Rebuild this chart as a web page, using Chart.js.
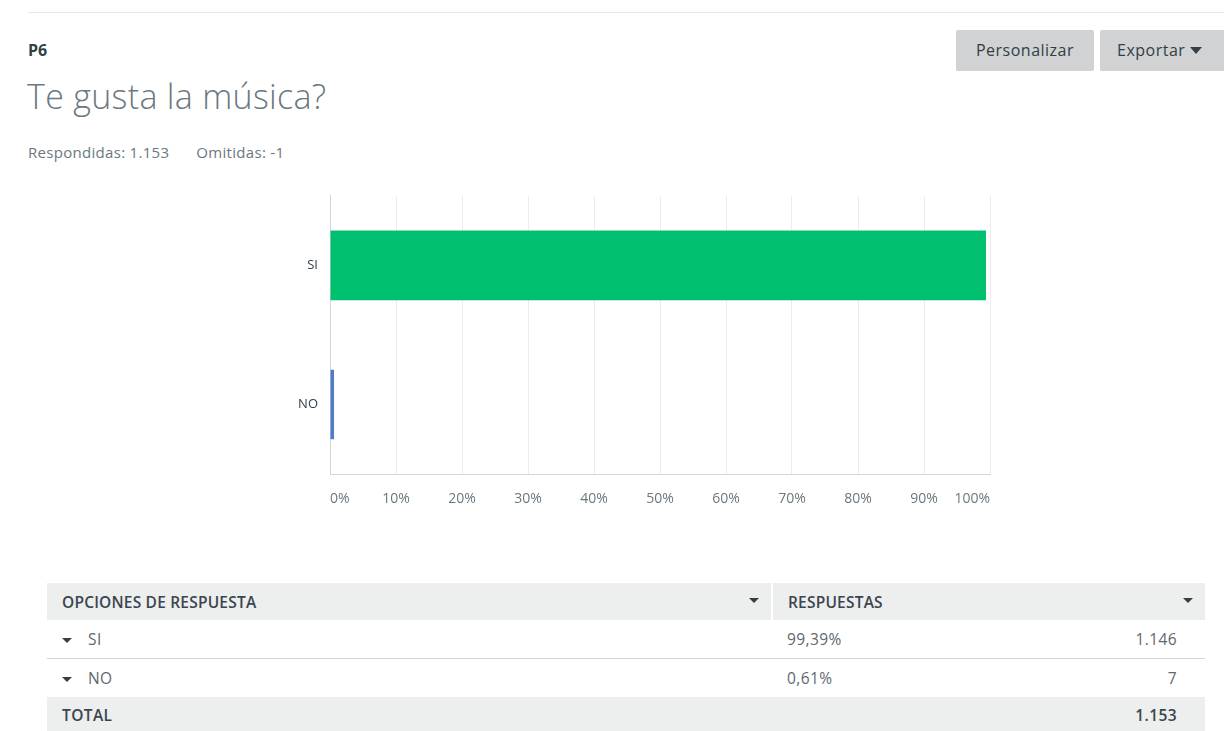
<!DOCTYPE html>
<html lang="es">
<head>
<meta charset="utf-8">
<title>P6 - Te gusta la música?</title>
<script src="https://cdn.jsdelivr.net/npm/chart.js@4/dist/chart.umd.min.js"></script>
<style>
  html, body { margin: 0; padding: 0; background: #fff; }
  body { width: 1224px; height: 731px; position: relative; overflow: hidden; font-family: "Open Sans", Roboto, Arial, sans-serif; }
  .topline { position: absolute; left: 28px; right: 0; top: 12px; height: 1px; background: #e8e9ea; }
  .qnum { position: absolute; left: 28px; top: 39px; font: 700 16px "Open Sans", Arial, sans-serif; color: #333e48; }
  .qtitle { position: absolute; left: 27px; top: 73px; font: 300 34px "Open Sans", Lato, sans-serif; color: #6b787f; letter-spacing: 0.3px; }
  .stats { position: absolute; left: 28px; top: 142px; font: 400 15px "Open Sans", sans-serif; color: #6b787f; letter-spacing: 0.3px; }
  .stats span + span { margin-left: 27px; }
  .btn { position: absolute; top: 30px; height: 41px; background: #d0d2d3; border-radius: 2px; color: #333e48;
         font: 400 16px "Open Sans", sans-serif; letter-spacing: 0.5px; line-height: 41px; text-align: center; }
  .btn.p { left: 956px; width: 138px; }
  .btn.e { left: 1100px; width: 130px; text-align: left; padding-left: 17px; box-sizing: border-box; }
  .btn .tri { display: inline-block; width: 0; height: 0; border-left: 6px solid transparent; border-right: 6px solid transparent; border-top: 7px solid #333e48; margin-left: 5px; vertical-align: 2px; }
  .chartbox { position: absolute; left: 280px; top: 176px; width: 727px; height: 341px; }
  table { position: absolute; left: 47px; top: 583px; width: 1158px; border-collapse: collapse; font: 400 15.5px "Open Sans", sans-serif; letter-spacing: 0.4px; color: #333e48; }
  th, td { padding: 0 15px; text-align: left; }
  thead th { background: #edeeee; height: 37px; font-weight: 600; font-size: 15.5px; letter-spacing: 0.2px; text-transform: uppercase; position: relative; color: #3b454e; }
  thead th.c1 { border-right: 2px solid #fff; width: 694px; }
  .caret { position: absolute; right: 12px; top: 15px; width: 0; height: 0; border-left: 5px solid transparent; border-right: 5px solid transparent; border-top: 5px solid #333e48; }
  tbody td { height: 38px; color: #5d6870; }
  tbody tr.first td { border-bottom: 1px solid #d3d5d6; }
  .rc { display: inline-block; width: 0; height: 0; border-left: 5px solid transparent; border-right: 5px solid transparent; border-top: 5px solid #333e48; margin-right: 16px; vertical-align: middle; }
  td.num { text-align: right; padding-right: 28px; }
  tfoot td { background: #edeeee; height: 36px; font-weight: 600; color: #3b454e; }
</style>
</head>
<body>
<div class="topline"></div>
<div class="qnum">P6</div>
<div class="qtitle">Te gusta la música?</div>
<div class="stats"><span id="resp"></span><span id="omit"></span></div>
<div class="btn p">Personalizar</div>
<div class="btn e">Exportar<span class="tri"></span></div>

<div class="chartbox"><canvas id="chart"></canvas></div>

<table>
  <thead>
    <tr><th class="c1">Opciones de respuesta<span class="caret"></span></th><th colspan="2">Respuestas<span class="caret"></span></th></tr>
  </thead>
  <tbody id="rows"></tbody>
  <tfoot><tr><td>TOTAL</td><td></td><td class="num" id="total"></td></tr></tfoot>
</table>

<script>
// Answer options and results
const categories = ['SI', 'NO'];
const percentages = [99.39, 0.61];
const counts = [1146, 7];
const answered = 1153;
const skipped = -1;
const barColors = ['#00bf6f', '#507cc0'];
const tickValues = [0, 10, 20, 30, 40, 50, 60, 70, 80, 90, 100];

const fmtInt = n => String(n).replace(/\B(?=(\d{3})+(?!\d))/g, '.');
const fmtPct = v => v.toFixed(2).replace('.', ',') + '%';

document.getElementById('resp').textContent = 'Respondidas: ' + fmtInt(answered);
document.getElementById('omit').textContent = 'Omitidas: ' + skipped;

// Results table
const tbody = document.getElementById('rows');
categories.forEach((c, i) => {
  const tr = document.createElement('tr');
  if (i === 0) tr.className = 'first';
  tr.innerHTML = '<td><span class="rc"></span>' + c + '</td><td>' + fmtPct(percentages[i]) +
                 '</td><td class="num">' + fmtInt(counts[i]) + '</td>';
  tbody.appendChild(tr);
});
document.getElementById('total').textContent = fmtInt(counts.reduce((a, b) => a + b, 0));

// Horizontal bar chart
new Chart(document.getElementById('chart'), {
  type: 'bar',
  data: {
    labels: categories,
    datasets: [{
      data: percentages,
      backgroundColor: barColors,
      borderWidth: 0,
      barPercentage: 0.5,
      categoryPercentage: 1.0
    }]
  },
  options: {
    indexAxis: 'y',
    responsive: true,
    maintainAspectRatio: false,
    animation: false,
    layout: { padding: 0 },
    plugins: { legend: { display: false }, tooltip: { enabled: false } },
    scales: {
      x: {
        min: 0, max: 100,
        afterBuildTicks: s => { s.ticks = tickValues.map(v => ({ value: v })); },
        afterFit: s => { s.height = 43; },
        grid: { color: '#ececec', lineWidth: 1, drawTicks: false },
        border: { color: '#d6d6d6', width: 1 },
        ticks: {
          align: 'inner',
          padding: 17,
          color: '#6b787f',
          font: { family: '"Open Sans", sans-serif', size: 14 },
          callback: v => v + '%'
        }
      },
      y: {
        afterFit: s => { s.width = 50; },
        grid: { display: false, drawTicks: false },
        border: { color: '#d6d6d6', width: 1 },
        ticks: {
          padding: 12,
          color: '#333e48',
          font: { family: '"Open Sans", sans-serif', size: 13 }
        }
      }
    }
  }
});
</script>
</body>
</html>
